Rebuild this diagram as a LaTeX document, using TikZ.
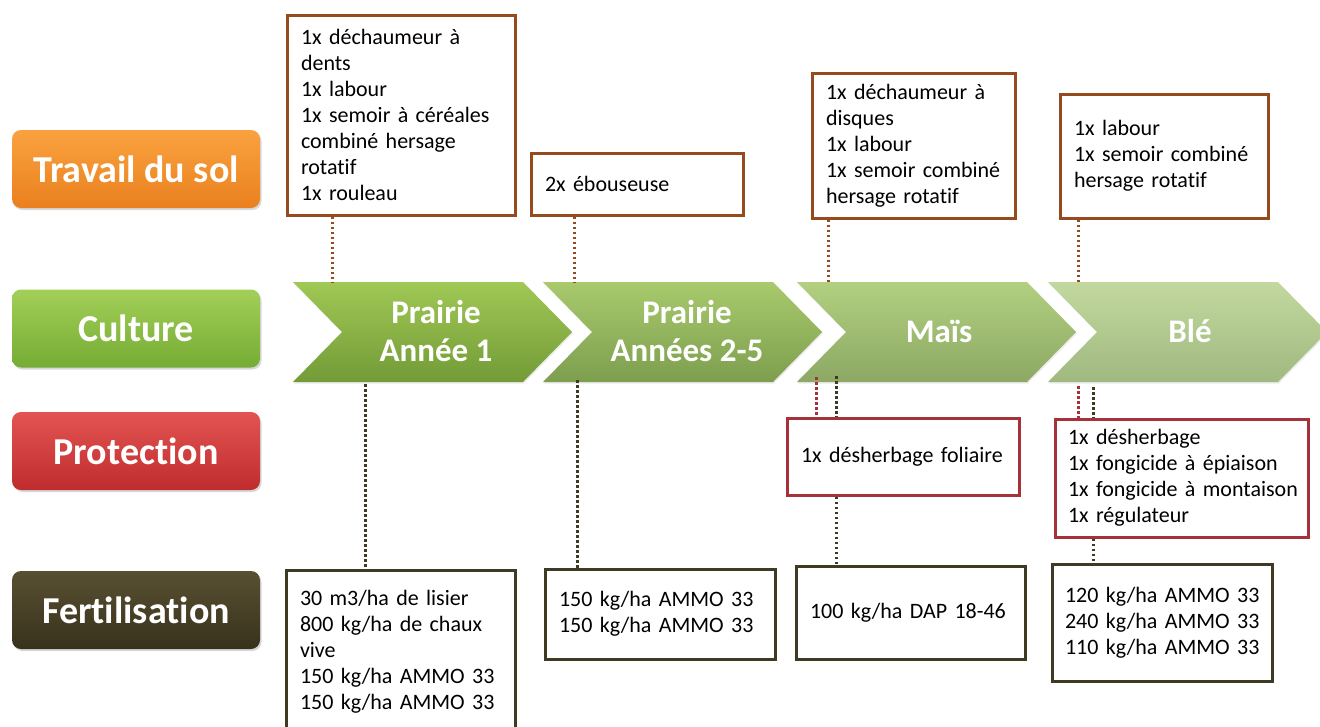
\documentclass[tikz,border=0pt]{standalone}
\usepackage{fontspec}
\setmainfont[Ligatures=NoCommon]{Carlito}
\usetikzlibrary{shadows}
\newcommand{\bxl}[1]{\makebox[0pt][l]{#1}}
\definecolor{travC}{RGB}{150,75,30}
\definecolor{protC}{RGB}{165,50,58}
\definecolor{fertC}{RGB}{62,58,35}
\definecolor{orT}{RGB}{250,162,64}
\definecolor{orB}{RGB}{234,128,30}
\definecolor{grT}{RGB}{162,207,88}
\definecolor{grB}{RGB}{118,172,52}
\definecolor{rdT}{RGB}{226,84,82}
\definecolor{rdB}{RGB}{192,44,46}
\definecolor{dkT}{RGB}{88,80,50}
\definecolor{dkB}{RGB}{56,50,28}
\definecolor{chAt}{RGB}{160,200,85}
\definecolor{chAb}{RGB}{115,155,55}
\definecolor{chBt}{RGB}{168,202,108}
\definecolor{chBb}{RGB}{125,158,78}
\definecolor{chCt}{RGB}{178,208,128}
\definecolor{chCb}{RGB}{140,168,100}
\definecolor{chDt}{RGB}{194,216,158}
\definecolor{chDb}{RGB}{160,185,128}
\begin{document}
\begin{tikzpicture}[x=1pt,y=-1pt,
  lbl/.style={rounded corners=9pt, minimum width=248pt, minimum height=78pt,
    text=white, font=\fontsize{38}{44}\selectfont\bfseries, inner sep=0pt,
    drop shadow={opacity=0.3, shadow xshift=1.5pt, shadow yshift=-2pt}},
  chevtxt/.style={text=white, align=center, font=\fontsize{33}{38}\selectfont\bfseries, inner sep=0pt},
  infobox/.style={draw, line width=3pt, fill=white, align=left, inner xsep=14pt, inner ysep=0pt,
    font=\fontsize{22}{26}\selectfont,
    drop shadow={opacity=0.2, shadow xshift=1pt, shadow yshift=-1.5pt}},
  tbox/.style={infobox, draw=travC},
  pbox/.style={infobox, draw=protC},
  fbox/.style={infobox, draw=fertC},
  dots/.style={line width=3pt, dash pattern=on 2.6pt off 2.4pt},
  tdots/.style={dots, draw=travC},
  pdots/.style={dots, draw=protC},
  fdots/.style={dots, draw=fertC}]
\useasboundingbox (0,0) rectangle (1320,726);
\clip (0,0) rectangle (1320,726);
\fill[white] (0,0) rectangle (1320,726);

% left labels
\node[lbl, top color=orT, bottom color=orB] (Lt) at (136,169) {Travail du sol};
\node[lbl, top color=grT, bottom color=grB] (Lc) at (136,328.5) {Culture};
\node[lbl, top color=rdT, bottom color=rdB] (Lp) at (136,451) {Protection};
\node[lbl, top color=dkT, bottom color=dkB] (Lf) at (136,610) {Fertilisation};

% chevrons
\foreach \xo/\ct/\cb in {293/chAt/chAb, 543/chBt/chBb, 797/chCt/chCb, 1048/chDt/chDb}{
  \path[top color=\ct, bottom color=\cb, drop shadow={opacity=0.15, shadow xshift=1pt, shadow yshift=-1.5pt}]
    (\xo,282) -- ++(230,0) -- ++(49,50) -- ++(-49,50) -- ++(-230,0) -- ++(49,-50) -- cycle;
}
\node[chevtxt] (c1) at (436,331) {Prairie\\Année 1};
\node[chevtxt] (c2) at (687,331) {Prairie\\Années 2-5};
\node[chevtxt] (c3) at (939,331) {Maïs};
\node[chevtxt] (c4) at (1190,331) {Blé};

% connection points on chevrons
\coordinate (c1t) at (332,282);
\coordinate (c2t) at (574,282);
\coordinate (c3t) at (828,282);
\coordinate (c4t) at (1078,282);
\coordinate (c1b) at (365,384);
\coordinate (c2b) at (577,380);
\coordinate (c3r) at (816,377);
\coordinate (c3d) at (836,376);
\coordinate (c4r) at (1078,386);
\coordinate (c4d) at (1093,387);

% travail du sol boxes
\node[tbox, text width=200pt, minimum height=200pt] (T1) at (401,115)
  {\bxl{1x déchaumeur à}\\\bxl{dents}\\\bxl{1x labour}\\\bxl{1x semoir à céréales}\\\bxl{combiné hersage}\\\bxl{rotatif}\\\bxl{1x rouleau}};
\node[tbox, text width=184pt, minimum height=62pt] (T2) at (637,184) {\bxl{2x ébouseuse}};
\node[tbox, text width=175pt, minimum height=145pt] (T3) at (913.5,145.5)
  {\bxl{1x déchaumeur à}\\\bxl{disques}\\\bxl{1x labour}\\\bxl{1x semoir combiné}\\\bxl{hersage rotatif}};
\node[tbox, text width=180pt, minimum height=124pt] (T4) at (1164,156)
  {\bxl{1x labour}\\\bxl{1x semoir combiné}\\\bxl{hersage rotatif}};

% protection boxes
\node[pbox, text width=204pt, minimum height=77pt] (P3) at (903,456.5) {\bxl{1x désherbage foliaire}};
\node[pbox, text width=227pt, minimum height=118pt, inner xsep=13pt] (P4) at (1181.5,478)
  {\bxl{1x désherbage}\\\bxl{1x fongicide à épiaison}\\\bxl{1x fongicide à montaison}\\\bxl{1x régulateur}};

% fertilisation boxes
\node[fbox, text width=201pt, minimum height=164pt] (F1) at (400.5,652)
  {\bxl{30 m3/ha de lisier}\\\bxl{800 kg/ha de chaux}\\\bxl{vive}\\\bxl{150 kg/ha AMMO 33}\\\bxl{150 kg/ha AMMO 33}};
\node[fbox, text width=202pt, minimum height=90pt] (F2) at (660,614)
  {\bxl{150 kg/ha AMMO 33}\\\bxl{150 kg/ha AMMO 33}};
\node[fbox, text width=201pt, minimum height=93pt] (F3) at (910.5,612.5) {\bxl{100 kg/ha DAP 18-46}};
\node[fbox, text width=194pt, minimum height=117pt, inner xsep=13pt] (F4) at (1162,622.5)
  {\bxl{120 kg/ha AMMO 33}\\\bxl{240 kg/ha AMMO 33}\\\bxl{110 kg/ha AMMO 33}};

% connectors
\draw[tdots] (T1.south -| c1t) -- (c1t);
\draw[tdots] (T2.south -| c2t) -- (c2t);
\draw[tdots] (T3.south -| c3t) -- (c3t);
\draw[tdots] (T4.south -| c4t) -- (c4t);
\draw[fdots] (c1b) -- (F1.north -| c1b);
\draw[fdots] (c2b) -- (F2.north -| c2b);
\draw[pdots] (c3r) -- (P3.north -| c3r);
\draw[fdots] (c3d) -- (P3.north -| c3d);
\draw[fdots] (P3.south -| c3d) -- (F3.north -| c3d);
\draw[pdots] (c4r) -- (P4.north -| c4r);
\draw[fdots] (c4d) -- (P4.north -| c4d);
\draw[fdots] (P4.south -| c4d) -- (F4.north -| c4d);
\end{tikzpicture}
\end{document}
